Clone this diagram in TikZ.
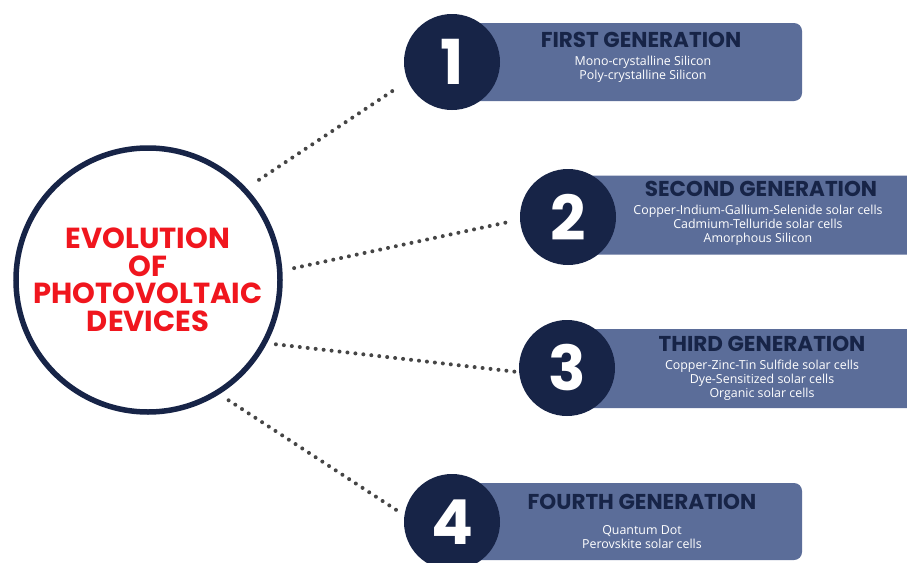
\documentclass[tikz,border=0pt]{standalone}
\usepackage{fontspec}
\setmainfont{Poppins}
\newfontfamily\itemfont{Open Sans}
\definecolor{navy}{HTML}{172447}
\definecolor{banner}{HTML}{5B6D99}
\definecolor{dotgray}{HTML}{454545}
\definecolor{hotred}{HTML}{F0161E}
\begin{document}
\begin{tikzpicture}[x=1pt,y=-1pt,
  bigring/.style={circle, draw=navy, line width=5.5pt, fill=white,
    minimum size=264pt, inner sep=0pt, align=center, text=hotred,
    font=\fontsize{29}{27.5}\selectfont\bfseries},
  numdisk/.style={circle, fill=navy, minimum size=96pt, inner sep=0pt,
    outer sep=0pt, text=white, font=\fontsize{62}{62}\selectfont\bfseries},
  panel/.style={fill=banner, rounded corners=8pt, inner sep=0pt, outer sep=0pt},
  gentitle/.style={text=navy, font=\fontsize{21.5}{21.5}\selectfont\bfseries, inner sep=0pt},
  genitems/.style={text=white, font=\itemfont\fontsize{12.4}{14.2}\selectfont,
    align=center, inner sep=0pt},
  dotline/.style={draw=dotgray, line width=4pt, line cap=round,
    dash pattern=on 0pt off 8pt}]
\clip (0,0) rectangle (907,562);
\fill[white] (0,0) rectangle (907,562);

% generation banners
\node[panel, minimum width=332pt, minimum height=78pt] (b1) at (636,62) {};
\node[panel, minimum width=400pt, minimum height=79pt] (b2) at (740,215) {};
\node[panel, minimum width=400pt, minimum height=79pt] (b3) at (740,368.5) {};
\node[panel, minimum width=332pt, minimum height=77pt] (b4) at (636,521.5) {};

% numbered discs
\node[numdisk] (c1) at (452,62) {1};
\node[numdisk] (c2) at (568,217) {2};
\node[numdisk] (c3) at (567,368) {3};
\node[numdisk] (c4) at (452,522) {4};

% central ring
\node[bigring] (big) at (148,280) {EVOLUTION\\OF\\PHOTOVOLTAIC\\DEVICES};

% dotted connectors
\draw[dotline, shorten <=15pt, shorten >=15pt] (big.43) -- (c1.203);
\draw[dotline, shorten <=12pt, shorten >=8pt] (big.4) -- (c2.183);
\draw[dotline, shorten <=9pt, shorten >=2pt] (big.-28) -- (c3.185);
\draw[dotline, shorten <=11pt, shorten >=8pt] (big.-58) -- (c4.172);

% banner texts
\node[gentitle] (t1) at (641,40) {FIRST GENERATION};
\node[genitems] (i1) at (643,69) {Mono-crystalline Silicon\\Poly-crystalline Silicon};

\node[gentitle] (t2) at (761,189) {SECOND GENERATION};
\node[genitems] (i2) at (758,225) {Copper-Indium-Gallium-Selenide solar cells\\Cadmium-Telluride solar cells\\Amorphous Silicon};

\node[gentitle] (t3) at (762,344) {THIRD GENERATION};
\node[genitems] (i3) at (762,380) {Copper-Zinc-Tin Sulfide solar cells\\Dye-Sensitized solar cells\\Organic solar cells};

\node[gentitle] (t4) at (642,502) {FOURTH GENERATION};
\node[genitems] (i4) at (642,537) {Quantum Dot\\Perovskite solar cells};
\end{tikzpicture}
\end{document}
